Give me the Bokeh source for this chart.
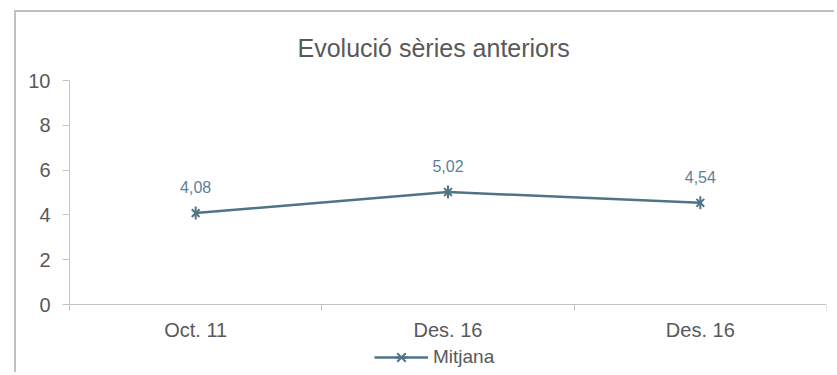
import math
from bokeh.plotting import figure
from bokeh.models import Range1d, FixedTicker, Legend, LegendItem, ColumnDataSource, LabelSet
from bokeh.core.properties import value
from bokeh.embed import file_html
from bokeh.resources import INLINE

# ---- data ----
categories = ["Oct. 11", "Des. 16", "Des. 16"]
values = [4.08, 5.02, 4.54]
value_labels = ["4,08", "5,02", "4,54"]
y_ticks = [0, 2, 4, 6, 8, 10]
title_text = "Evolució sèries anteriors"
series_name = "Mitjana"

FONT = "Liberation Sans"
TEXT = "#595959"
LINE = "#4f7387"
LABEL = "#5e8195"
AXIS = "#c4c4c4"

# layout (pixels): frame from canvas y=68 to y=360, value axis 0..10 spans 224 px
FRAME_H = 292
PX_PER_UNIT = 22.4
y_start = -(FRAME_H - 10 * PX_PER_UNIT) / PX_PER_UNIT

xpos = [i + 0.5 for i in range(len(categories))]
src = ColumnDataSource(dict(x=xpos, y=values, lab=value_labels))

p = figure(width=820, height=362, output_backend="svg", toolbar_location=None,
           x_range=Range1d(0, len(categories)), y_range=Range1d(y_start, 10),
           min_border_left=53, min_border_right=10, min_border_top=68, min_border_bottom=2)
# chart-area border: only its left and top edges are visible in the reference
p.styles = {"border-left": "2px solid #c0c0c0", "border-top": "2px solid #c0c0c0",
            "margin-left": "14px", "margin-top": "10px"}

p.outline_line_color = None
p.grid.visible = False
p.background_fill_color = "white"
p.border_fill_color = "white"

p.title.text = title_text
p.title.align = "left"
p.title.offset = 228
p.title.text_font = FONT
p.title.text_font_size = "25px"
p.title.text_font_style = "normal"
p.title.text_color = TEXT
p.title.standoff = 38

# x axis drawn at value 0: labels at category centres, tick marks on boundaries
xa = p.xaxis[0]
xa.fixed_location = 0
xa.ticker = FixedTicker(ticks=xpos, minor_ticks=list(range(len(categories) + 1)))
xa.major_label_overrides = {x: c for x, c in zip(xpos, categories)}
xa.major_tick_line_color = None
xa.minor_tick_out = 6
xa.minor_tick_in = 0
xa.minor_tick_line_color = AXIS
xa.axis_line_color = AXIS
xa.major_label_text_font = FONT
xa.major_label_text_font_size = "20px"
xa.major_label_text_color = TEXT
xa.major_label_standoff = 8

ya = p.yaxis[0]
ya.ticker = FixedTicker(ticks=y_ticks)
ya.bounds = (-6 / PX_PER_UNIT, 10)
ya.major_tick_out = 7
ya.major_tick_in = 0
ya.minor_tick_line_color = None
ya.major_tick_line_color = AXIS
ya.axis_line_color = AXIS
ya.major_label_text_font = FONT
ya.major_label_text_font_size = "20px"
ya.major_label_text_color = TEXT
ya.major_label_standoff = 12

lr = p.line("x", "y", source=src, line_color=LINE, line_width=2.5)
# six-armed star marker: an "x" plus a vertical stroke
sx = p.scatter("x", "y", source=src, marker="x", size=11, line_color=LINE, line_width=2)
sv = p.scatter("x", "y", source=src, marker="dash", angle=math.pi / 2, size=13,
               line_color=LINE, line_width=2)

labels = LabelSet(x="x", y="y", text="lab", source=src, text_align="center", text_baseline="middle",
                  y_offset=26, text_font=value(FONT), text_font_size=value("16px"), text_color=LABEL)
p.add_layout(labels)

legend = Legend(items=[LegendItem(label=series_name, renderers=[lr, sx, sv])],
                location=(305, 0), orientation="horizontal",
                padding=2, margin=0, spacing=0, glyph_width=54, glyph_height=30, label_standoff=5,
                label_text_font=FONT, label_text_font_size="19px", label_text_color=TEXT,
                border_line_color=None, background_fill_alpha=0)
p.add_layout(legend, "center")

open("out.html", "w").write(file_html(p, INLINE))
